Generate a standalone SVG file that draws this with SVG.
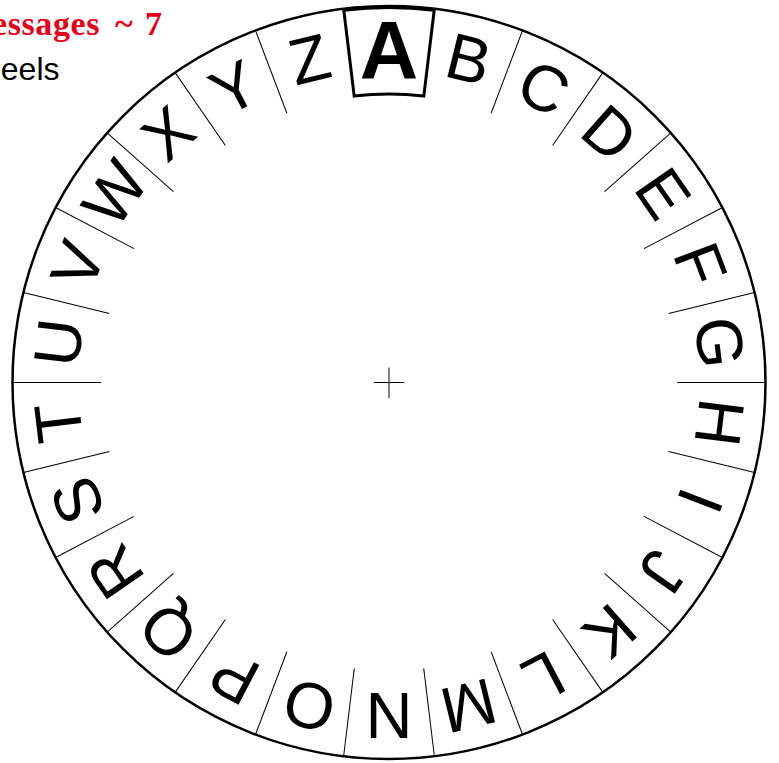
<svg xmlns="http://www.w3.org/2000/svg" width="779" height="763" viewBox="0 0 779 763">
<style>
.ring{fill:none;stroke:#000;stroke-width:2.5}
.div line{stroke:#000;stroke-width:1}
.lt{font-family:"Liberation Sans",Arial,sans-serif;font-size:65px;text-anchor:middle;fill:#000}
.ax{font-family:"Liberation Sans",Arial,sans-serif;font-size:81px;font-weight:bold;text-anchor:middle;fill:#000}
.cross{stroke:#000;stroke-width:1}
</style>
<rect width="779" height="763" fill="#fff"/>
<g id="title">
<text y="35" font-family="'Liberation Serif',serif" font-weight="bold" font-size="34" fill="#e2001a"><tspan x="-8" letter-spacing="0.6">essages</tspan><tspan x="115">~</tspan><tspan x="145">7</tspan></text>
<text x="59.5" y="80" font-family="'Liberation Sans',Arial,sans-serif" font-size="32" fill="#000" text-anchor="end">eels</text>
</g>
<g id="wheel">
<circle class="ring" cx="389" cy="382.5" r="376.5"/>
<g class="cross">
<line x1="374" y1="382.5" x2="404" y2="382.5"/>
<line x1="389" y1="367.5" x2="389" y2="398"/>
</g>
</g>
<g id="connectors" class="div">
<line x1="389" y1="94.5" x2="389" y2="6" transform="rotate(20.769 389 382.5)"/>
<line x1="389" y1="94.5" x2="389" y2="6" transform="rotate(34.615 389 382.5)"/>
<line x1="389" y1="94.5" x2="389" y2="6" transform="rotate(48.462 389 382.5)"/>
<line x1="389" y1="94.5" x2="389" y2="6" transform="rotate(62.308 389 382.5)"/>
<line x1="389" y1="94.5" x2="389" y2="6" transform="rotate(76.154 389 382.5)"/>
<line x1="389" y1="94.5" x2="389" y2="6" transform="rotate(90 389 382.5)"/>
<line x1="389" y1="94.5" x2="389" y2="6" transform="rotate(103.846 389 382.5)"/>
<line x1="389" y1="94.5" x2="389" y2="6" transform="rotate(117.692 389 382.5)"/>
<line x1="389" y1="94.5" x2="389" y2="6" transform="rotate(131.538 389 382.5)"/>
<line x1="389" y1="94.5" x2="389" y2="6" transform="rotate(145.385 389 382.5)"/>
<line x1="389" y1="94.5" x2="389" y2="6" transform="rotate(159.231 389 382.5)"/>
<line x1="389" y1="94.5" x2="389" y2="6" transform="rotate(173.077 389 382.5)"/>
<line x1="389" y1="94.5" x2="389" y2="6" transform="rotate(186.923 389 382.5)"/>
<line x1="389" y1="94.5" x2="389" y2="6" transform="rotate(200.769 389 382.5)"/>
<line x1="389" y1="94.5" x2="389" y2="6" transform="rotate(214.615 389 382.5)"/>
<line x1="389" y1="94.5" x2="389" y2="6" transform="rotate(228.462 389 382.5)"/>
<line x1="389" y1="94.5" x2="389" y2="6" transform="rotate(242.308 389 382.5)"/>
<line x1="389" y1="94.5" x2="389" y2="6" transform="rotate(256.154 389 382.5)"/>
<line x1="389" y1="94.5" x2="389" y2="6" transform="rotate(270 389 382.5)"/>
<line x1="389" y1="94.5" x2="389" y2="6" transform="rotate(283.846 389 382.5)"/>
<line x1="389" y1="94.5" x2="389" y2="6" transform="rotate(297.692 389 382.5)"/>
<line x1="389" y1="94.5" x2="389" y2="6" transform="rotate(311.538 389 382.5)"/>
<line x1="389" y1="94.5" x2="389" y2="6" transform="rotate(325.385 389 382.5)"/>
<line x1="389" y1="94.5" x2="389" y2="6" transform="rotate(339.231 389 382.5)"/>
</g>
<g id="node-A">
<path d="M343.8 10.23 A375 375 0 0 1 434.2 10.23 L423.8 96.1 A288.5 288.5 0 0 0 354.2 96.1 Z" fill="none" stroke="#000" stroke-width="3"/>
<text class="ax" x="389" y="78">A</text>
</g>
<g id="letters">
<text class="lt" x="389" y="72" transform="rotate(13.846 389 382.5)">B</text>
<text class="lt" x="389" y="72" transform="rotate(27.692 389 382.5)">C</text>
<text class="lt" x="389" y="72" transform="rotate(41.538 389 382.5)">D</text>
<text class="lt" x="389" y="72" transform="rotate(55.385 389 382.5)">E</text>
<text class="lt" x="389" y="72" transform="rotate(69.231 389 382.5)">F</text>
<text class="lt" x="389" y="72" transform="rotate(83.077 389 382.5)">G</text>
<text class="lt" x="389" y="72" transform="rotate(96.923 389 382.5)">H</text>
<text class="lt" x="389" y="72" transform="rotate(110.769 389 382.5)">I</text>
<text class="lt" x="389" y="72" transform="rotate(124.615 389 382.5)">J</text>
<text class="lt" x="389" y="72" transform="rotate(138.462 389 382.5)">K</text>
<text class="lt" x="389" y="72" transform="rotate(152.308 389 382.5)">L</text>
<text class="lt" x="389" y="72" transform="rotate(166.154 389 382.5)">M</text>
<text class="lt" x="389" y="72" transform="rotate(180 389 382.5)">N</text>
<text class="lt" x="389" y="72" transform="rotate(193.846 389 382.5)">O</text>
<text class="lt" x="389" y="72" transform="rotate(207.692 389 382.5)">P</text>
<text class="lt" x="389" y="72" transform="rotate(221.538 389 382.5)">Q</text>
<text class="lt" x="389" y="72" transform="rotate(235.385 389 382.5)">R</text>
<text class="lt" x="389" y="72" transform="rotate(249.231 389 382.5)">S</text>
<text class="lt" x="389" y="72" transform="rotate(263.077 389 382.5)">T</text>
<text class="lt" x="389" y="72" transform="rotate(276.923 389 382.5)">U</text>
<text class="lt" x="389" y="72" transform="rotate(290.769 389 382.5)">V</text>
<text class="lt" x="389" y="72" transform="rotate(304.615 389 382.5)">W</text>
<text class="lt" x="389" y="72" transform="rotate(318.462 389 382.5)">X</text>
<text class="lt" x="389" y="72" transform="rotate(332.308 389 382.5)">Y</text>
<text class="lt" x="389" y="72" transform="rotate(346.154 389 382.5)">Z</text>
</g>
</svg>
